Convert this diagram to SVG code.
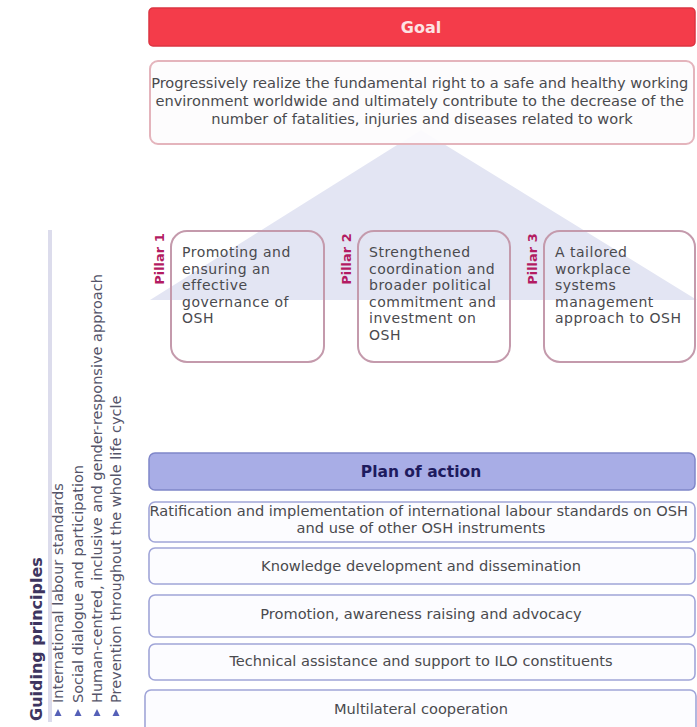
<svg xmlns="http://www.w3.org/2000/svg" width="697" height="727" viewBox="0 0 697 727">
<style>
  text { font-family: "DejaVu Sans", "Noto Sans", "Liberation Sans", sans-serif; }
  .body { font-size: 14.6px; fill: #4a4a4e; }
  .pil { font-size: 14px; letter-spacing: 0.5px; fill: #4a4a4e; }
  .plab { font-size: 13px; font-weight: bold; fill: #b31b62; }
  .pbox { fill: none; stroke: #c49aac; stroke-width: 2; }
  .row { fill: #fcfcff; stroke: #a0a5d8; stroke-width: 1.6; }
  .gp { font-size: 14.5px; fill: #55556a; }
  .bul { fill: #5560b8; }
</style>
<rect width="697" height="727" fill="#ffffff"/>

<g id="triangle">
  <polygon points="421,130 150,300 697,300" fill="#e3e5f3"/>
</g>

<g id="goal-header">
  <rect x="149" y="8" width="546" height="38" rx="4" fill="#f43c4a" stroke="#dc3441" stroke-width="1.5"/>
  <text x="421" y="33" text-anchor="middle" font-size="16" font-weight="bold" fill="#fde3e3">Goal</text>
</g>

<g id="goal-text">
  <rect x="150" y="61" width="544" height="83" rx="8" fill="#fdfcfd" fill-opacity="0.93" stroke="#e4b4bc" stroke-width="2"/>
  <text class="body" text-anchor="middle">
    <tspan x="422" y="88">Progressively realize the fundamental right to a safe and healthy working</tspan>
    <tspan x="422" y="106">environment worldwide and ultimately contribute to the decrease of the</tspan>
    <tspan x="422" y="124">number of fatalities, injuries and diseases related to work</tspan>
  </text>
</g>

<g id="pillar1">
  <rect class="pbox" x="171" y="231" width="153" height="131" rx="16"/>
  <text class="plab" transform="translate(163.5,259) rotate(-90)" text-anchor="middle">Pillar 1</text>
  <text class="pil">
    <tspan x="182" y="257">Promoting and</tspan>
    <tspan x="182" y="273.5">ensuring an</tspan>
    <tspan x="182" y="290">effective</tspan>
    <tspan x="182" y="306.5">governance of</tspan>
    <tspan x="182" y="323">OSH</tspan>
  </text>
</g>

<g id="pillar2">
  <rect class="pbox" x="358" y="231" width="152" height="131" rx="16"/>
  <text class="plab" transform="translate(350.5,259) rotate(-90)" text-anchor="middle">Pillar 2</text>
  <text class="pil">
    <tspan x="369" y="257">Strengthened</tspan>
    <tspan x="369" y="273.5">coordination and</tspan>
    <tspan x="369" y="290">broader political</tspan>
    <tspan x="369" y="306.5">commitment and</tspan>
    <tspan x="369" y="323">investment on</tspan>
    <tspan x="369" y="339.5">OSH</tspan>
  </text>
</g>

<g id="pillar3">
  <rect class="pbox" x="544" y="231" width="151" height="131" rx="16"/>
  <text class="plab" transform="translate(536.5,259) rotate(-90)" text-anchor="middle">Pillar 3</text>
  <text class="pil">
    <tspan x="555" y="257">A tailored</tspan>
    <tspan x="555" y="273.5">workplace</tspan>
    <tspan x="555" y="290">systems</tspan>
    <tspan x="555" y="306.5">management</tspan>
    <tspan x="555" y="323">approach to OSH</tspan>
  </text>
</g>

<g id="plan-header">
  <rect x="149" y="453" width="546" height="37" rx="6" fill="#a8ade6" stroke="#7f86c9" stroke-width="1.5"/>
  <text x="421" y="477" text-anchor="middle" font-size="15.5" font-weight="bold" fill="#1e1b5e">Plan of action</text>
</g>

<g id="action1">
  <rect class="row" x="149" y="502" width="546" height="40" rx="6"/>
  <text class="body" text-anchor="middle" font-size="14.4">
    <tspan x="421" y="515.5">Ratification and implementation of international labour standards on OSH</tspan>
    <tspan x="421" y="532.5">and use of other OSH instruments</tspan>
  </text>
</g>

<g id="action2">
  <rect class="row" x="149" y="548" width="546" height="36" rx="6"/>
  <text class="body" x="421" y="571" text-anchor="middle">Knowledge development and dissemination</text>
</g>

<g id="action3">
  <rect class="row" x="149" y="595" width="546" height="42" rx="6"/>
  <text class="body" x="421" y="619" text-anchor="middle">Promotion, awareness raising and advocacy</text>
</g>

<g id="action4">
  <rect class="row" x="149" y="644" width="546" height="36" rx="6"/>
  <text class="body" x="421" y="666" text-anchor="middle">Technical assistance and support to ILO constituents</text>
</g>

<g id="action5">
  <rect class="row" x="145" y="690" width="551" height="50" rx="6"/>
  <text class="body" x="421" y="714" text-anchor="middle">Multilateral cooperation</text>
</g>

<g id="guiding-principles">
  <line x1="50" y1="230" x2="50" y2="722" stroke="#dcdcec" stroke-width="4"/>
  <text transform="translate(41.5,721) rotate(-90)" font-size="16" font-weight="bold" fill="#3d3560">Guiding principles</text>
  <polygon class="bul" points="54.5,716 58,709 61.5,716"/>
  <polygon class="bul" points="74.5,716 78,709 81.5,716"/>
  <polygon class="bul" points="93.5,716 97,709 100.5,716"/>
  <polygon class="bul" points="112.5,716 116,709 119.5,716"/>
  <text class="gp" transform="translate(63,703) rotate(-90)">International labour standards</text>
  <text class="gp" transform="translate(83,703) rotate(-90)">Social dialogue and participation</text>
  <text class="gp" transform="translate(102,703) rotate(-90)">Human-centred, inclusive and gender-responsive approach</text>
  <text class="gp" transform="translate(121,703) rotate(-90)">Prevention throughout the whole life cycle</text>
</g>
</svg>
